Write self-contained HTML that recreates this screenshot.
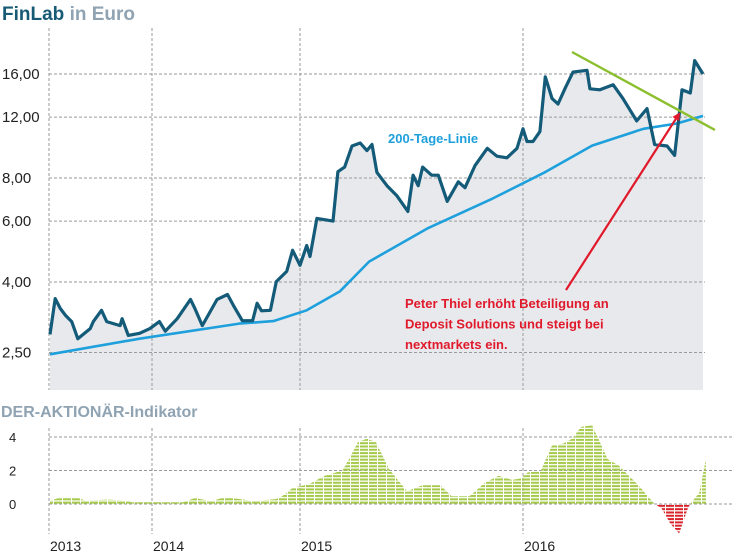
<!DOCTYPE html>
<html><head><meta charset="utf-8">
<style>
html,body{margin:0;padding:0;background:#fff;}
svg{display:block;font-family:"Liberation Sans",sans-serif;}
</style></head>
<body>
<svg id="chart" width="732" height="554" viewBox="0 0 732 554" xmlns="http://www.w3.org/2000/svg">
<defs>
<pattern id="pg" width="9" height="3.3" patternUnits="userSpaceOnUse"><rect x="0" y="0" width="8" height="2" fill="#a5c94a"/></pattern>
<pattern id="pr" width="9" height="3.3" patternUnits="userSpaceOnUse"><rect x="0" y="0" width="8" height="2" fill="#d9222a"/></pattern>
<marker id="ah" markerWidth="8" markerHeight="8" refX="6" refY="4" orient="auto" markerUnits="userSpaceOnUse" viewBox="0 0 8 8"><path d="M0,0 L8,4 L0,8 Z" fill="#e0192b"/></marker>
</defs>
<text x="2" y="20" font-size="19" font-weight="bold" fill="#175a74">FinLab <tspan fill="#8fa3b3">in Euro</tspan></text>
<g id="main"></g>
<text x="1" y="417" font-size="16" font-weight="bold" fill="#8fa3b3">DER-AKTIONÄR-Indikator</text>
<g id="ind"></g>
</svg>
<script>
const priceDates=[2013.01,2013.06,2013.11,2013.16,2013.22,2013.28,2013.40,2013.43,2013.51,2013.56,2013.69,2013.71,2013.77,2013.88,2013.98,2014.05,2014.09,2014.17,2014.26,2014.29,2014.34,2014.44,2014.51,2014.55,2014.61,2014.68,2014.71,2014.74,2014.80,2014.84,2014.91,2014.95,2015.00,2015.03,2015.045,2015.076,2015.148,2015.17,2015.20,2015.233,2015.27,2015.30,2015.323,2015.345,2015.39,2015.435,2015.484,2015.507,2015.53,2015.55,2015.59,2015.62,2015.66,2015.71,2015.74,2015.785,2015.84,2015.883,2015.928,2015.973,2016.00,2016.018,2016.045,2016.076,2016.10,2016.13,2016.157,2016.19,2016.224,2016.287,2016.30,2016.345,2016.404,2016.448,2016.51,2016.556,2016.59,2016.646,2016.68,2016.713,2016.75,2016.77,2016.807];
const priceValues=[2.82,3.58,3.35,3.2,3.07,2.74,2.93,3.07,3.31,3.07,2.99,3.13,2.80,2.84,2.93,3.07,2.88,3.13,3.56,3.35,2.99,3.56,3.68,3.42,3.09,3.09,3.47,3.30,3.31,4.01,4.29,4.94,4.47,5.10,4.74,6.11,6.0,8.34,8.6,9.9,10.1,9.6,10.0,8.3,7.6,7.1,6.4,8.15,7.6,8.6,8.15,8.15,6.85,7.8,7.5,8.7,9.75,9.25,9.15,9.75,11.1,10.2,10.2,10.9,15.7,13.6,13.1,14.6,16.2,16.4,14.5,14.4,14.9,13.6,11.7,12.7,10.0,9.9,9.3,14.4,14.1,17.5,16.0];
const maDates=[2013.01,2013.88,2014.59,2014.82,2015.03,2015.18,2015.31,2015.57,2015.865,2016.09,2016.31,2016.54,2016.69,2016.807];
const maValues=[2.47,2.74,3.03,3.08,3.31,3.76,4.58,5.71,6.98,8.26,9.93,11.1,11.5,12.1];
const yTicks=[2.5,4,6,8,12,16];
const yTickLabels=["2,50","4,00","6,00","8,00","12,00","16,00"];
const years=[2013,2014,2015,2016];
const indDates=[2013.01,2013.12,2013.27,2013.35,2013.57,2013.76,2013.80,2014.21,2014.29,2014.40,2014.49,2014.62,2014.69,2014.84,2014.88,2014.95,2015.04,2015.11,2015.19,2015.22,2015.26,2015.30,2015.34,2015.40,2015.48,2015.55,2015.63,2015.68,2015.76,2015.83,2015.89,2015.95,2015.99,2016.02,2016.08,2016.13,2016.18,2016.22,2016.26,2016.31,2016.38,2016.43,2016.52,2016.59,2016.62,2016.66,2016.70,2016.74,2016.75,2016.79,2016.82];
const indValues=[0.2,0.4,0.4,0.2,0.26,0.2,0.1,0.1,0.36,0.16,0.4,0.26,0.16,0.3,0.46,0.96,1.18,1.68,2.0,2.68,3.7,3.9,3.7,2.08,0.76,1.12,1.12,0.46,0.46,1.28,1.68,1.44,1.52,1.88,1.98,3.5,3.6,3.9,4.6,4.7,2.68,2.28,1.08,0,-0.24,-1.16,-1.76,-0.24,0,0.66,2.68];
const indTicks=[0,2,4];

const NS="http://www.w3.org/2000/svg";
const yb=[2013,2014,2015,2016,2017], xb=[49,152,300,523,746];
function X(t){for(let i=0;i<4;i++){if(t<=yb[i+1]||i==3){return xb[i]+(t-yb[i])/(yb[i+1]-yb[i])*(xb[i+1]-xb[i]);}}}
function Y(v){return 74+150*Math.log(16/v);}
function YI(v){return 504-16.75*v;}
function mk(tag,attrs,parent){const e=document.createElementNS(NS,tag);for(const k in attrs)e.setAttribute(k,attrs[k]);parent.appendChild(e);return e;}
const main=document.getElementById('main'), ind=document.getElementById('ind');
const R=705, B=390;
let d="M"+X(priceDates[0])+","+B;
priceDates.forEach((t,i)=>{d+=" L"+X(t).toFixed(1)+","+Y(priceValues[i]).toFixed(1);});
d+=" L"+X(priceDates[priceDates.length-1]).toFixed(1)+","+B+" Z";
let f=mk('path',{d:d,fill:'#e8e9ed'},main);


yTicks.forEach((v,i)=>{
 let g=mk('line',{x1:49,x2:R,y1:Y(v),y2:Y(v),stroke:'#9a9a9a','stroke-width':1,'stroke-dasharray':'3,2'},main);
 
 
 let t=mk('text',{x:2,y:Y(v)+5,'font-size':15,fill:'#222'},main);t.textContent=yTickLabels[i];
 
 
});
years.forEach(yr=>{
 let g=mk('line',{x1:X(yr),x2:X(yr),y1:28,y2:B,stroke:'#9a9a9a','stroke-width':1,'stroke-dasharray':'3,2'},main);
 
 
 let g2=mk('line',{x1:X(yr),x2:X(yr),y1:428,y2:534,stroke:'#9a9a9a','stroke-width':1,'stroke-dasharray':'3,2'},ind);
 
 
 let t=mk('text',{x:X(yr)+1,y:551,'font-size':14,fill:'#222'},ind);t.textContent=yr;
 
 
});
let md="";maDates.forEach((t,i)=>{md+=(i?" L":"M")+X(t).toFixed(1)+","+Y(maValues[i]).toFixed(1);});
let ma=mk('path',{d:md,fill:'none',stroke:'#1ea0dc','stroke-width':2.6,'stroke-linejoin':'round'},main);


let pd="";priceDates.forEach((t,i)=>{pd+=(i?" L":"M")+X(t).toFixed(1)+","+Y(priceValues[i]).toFixed(1);});
let pl=mk('path',{d:pd,fill:'none',stroke:'#135b78','stroke-width':3.2,'stroke-linejoin':'round'},main);


let tl=mk('line',{x1:572,y1:52,x2:715,y2:130,stroke:'#8cbf2e','stroke-width':2.4},main);


let ar=mk('line',{x1:566,y1:290,x2:679,y2:114,stroke:'#e0192b','stroke-width':2.2,'marker-end':'url(#ah)'},main);


let lb=mk('text',{x:388,y:143,'font-size':13,'font-weight':'bold',fill:'#1ea0dc'},main);lb.textContent="200-Tage-Linie";


["Peter Thiel erhöht Beteiligung an","Deposit Solutions und steigt bei","nextmarkets ein."].forEach((s,i)=>{
 let t=mk('text',{x:405,y:308+i*20.5,'font-size':13,'font-weight':'bold',fill:'#e0192b'},main);t.textContent=s;
 
 
});
indTicks.forEach(v=>{
 let g=mk('line',{x1:49,x2:732,y1:YI(v),y2:YI(v),stroke:'#9a9a9a','stroke-width':1,'stroke-dasharray':'3,2'},ind);
 
 
 let t=mk('text',{x:9,y:YI(v)+5,'font-size':13,fill:'#222'},ind);t.textContent=v;
 
 
});
function area(fn,fill,name){
 let s="M"+X(indDates[0]).toFixed(1)+","+YI(0);
 indDates.forEach((t,i)=>{s+=" L"+X(t).toFixed(1)+","+YI(fn(indValues[i])).toFixed(1);});
 s+=" L"+X(indDates[indDates.length-1]).toFixed(1)+","+YI(0)+" Z";
 let p=mk('path',{d:s,fill:fill},ind);
 
 
}
area(v=>Math.max(v,0),'url(#pg)','indicator-positive-area');
area(v=>Math.min(v,0),'url(#pr)','indicator-negative-area');
</script>
</body></html>
